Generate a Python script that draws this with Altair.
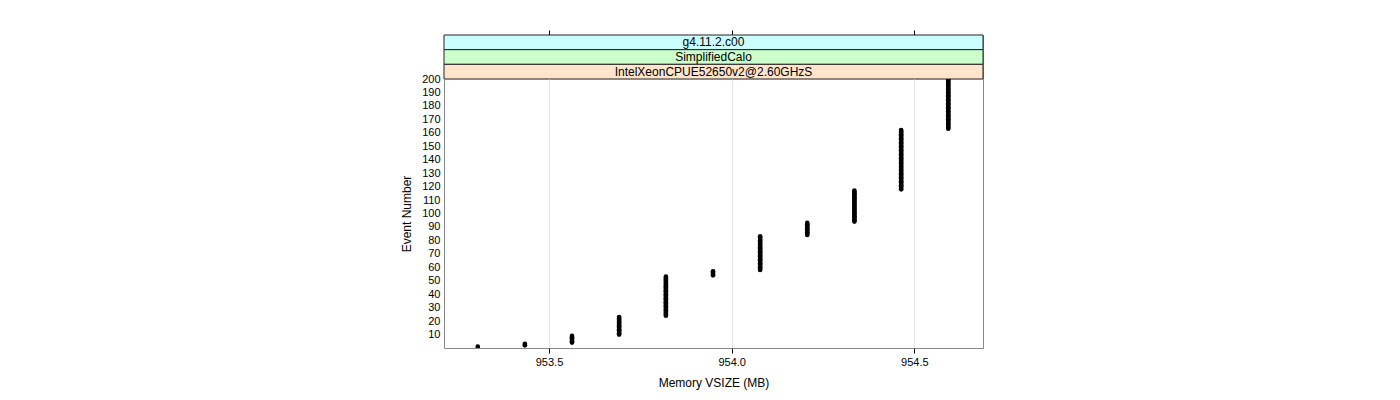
import altair as alt
import pandas as pd

# Memory VSIZE levels (MB) and the event ranges at each level
mem_levels = [953.305, 953.434, 953.563, 953.692, 953.820, 953.949,
              954.078, 954.207, 954.336, 954.464, 954.593]
first_event = [1, 2, 4, 10, 24, 54, 58, 84, 94, 118, 163]
last_event = [1, 3, 9, 23, 53, 57, 83, 93, 117, 162, 200]

strip_labels = ["g4.11.2.c00", "SimplifiedCalo", "IntelXeonCPUE52650v2@2.60GHzS"]
strip_colors = ["#ccffff", "#ccffcc", "#ffe5cc"]

x_ticks = [953.5, 954.0, 954.5]
y_ticks = list(range(10, 201, 10))
x_domain = [953.2126, 954.688]
y_domain = [0, 200]

rows = []
for m, a, b in zip(mem_levels, first_event, last_event):
    for e in range(a, b + 1):
        rows.append({"mem": m, "event": e})
df = pd.DataFrame(rows)

strip_df = pd.DataFrame({
    "label": strip_labels,
    "x0": [x_domain[0]] * 3,
    "x1": [x_domain[1]] * 3,
    "xm": [(x_domain[0] + x_domain[1]) / 2] * 3,
})

W = 539
xscale = alt.Scale(domain=x_domain, nice=False, zero=False)

strip_base = alt.Chart(strip_df).encode(
    y=alt.Y("label:N", sort=strip_labels, axis=None,
            scale=alt.Scale(paddingInner=0, paddingOuter=0)),
)
strip_rect = strip_base.mark_rect(stroke="#222", strokeWidth=1).encode(
    x=alt.X("x0:Q", scale=xscale,
            axis=alt.Axis(orient="top", values=x_ticks, labels=False, domain=False,
                          grid=False, ticks=True, tickSize=5, tickColor="#000",
                          title=None)),
    x2="x1:Q",
    color=alt.Color("label:N", scale=alt.Scale(domain=strip_labels, range=strip_colors),
                    legend=None),
)
strip_text = strip_base.mark_text(fontSize=12, color="#000", font="Liberation Sans").encode(
    x=alt.X("xm:Q", scale=xscale),
    text="label:N",
)
strips = alt.layer(strip_rect, strip_text).properties(width=W, height=44)

points = alt.Chart(df).mark_circle(size=22, color="#000", opacity=1, clip=True).encode(
    x=alt.X("mem:Q", scale=xscale,
            axis=alt.Axis(values=x_ticks, format=".1f", title="Memory VSIZE (MB)",
                          grid=True, gridColor="#e6e6e6", tickSize=5, tickColor="#000",
                          domain=False, labelPadding=3, titlePadding=10)),
    y=alt.Y("event:Q", scale=alt.Scale(domain=y_domain, nice=False),
            axis=alt.Axis(values=y_ticks, title="Event Number", grid=False,
                          ticks=False, domain=False, labelPadding=4, titlePadding=8)),
).properties(width=W, height=269)

chart = alt.vconcat(strips, points, spacing=0, bounds="flush").properties(
    padding={"left": 392, "top": 21, "right": 10, "bottom": 5},
    background="white",
).resolve_scale(x="shared").configure_view(
    stroke="#888", strokeWidth=1
).configure_axis(
    labelFont="Liberation Sans", titleFont="Liberation Sans",
    labelFontSize=11, titleFontSize=12, titleFontWeight="normal",
    labelColor="#000", titleColor="#000",
)

chart.save("out.html", embed_options={"renderer": "svg", "actions": False})
